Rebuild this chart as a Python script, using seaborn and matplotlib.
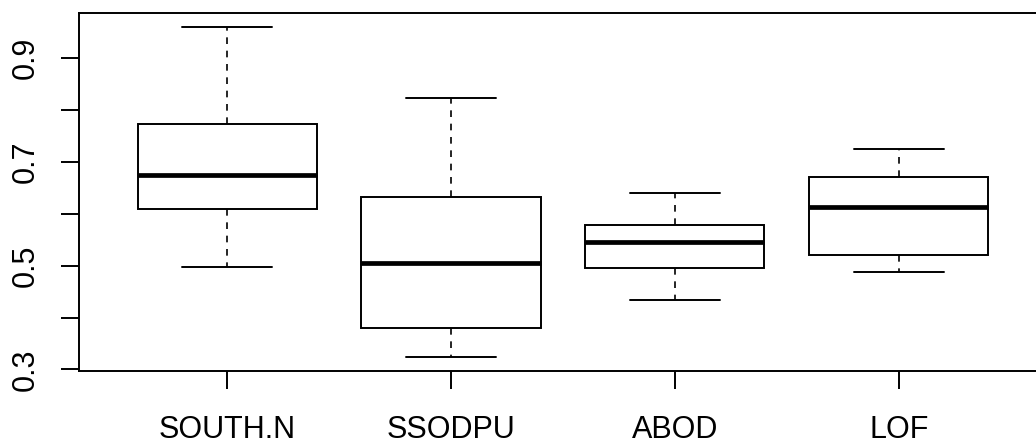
import pandas as pd
import numpy as np
import matplotlib
matplotlib.use("Agg")
import matplotlib.pyplot as plt
import seaborn as sns

# five-number summaries (min, Q1, median, Q3, max)
methods = ["SOUTH.N", "SSODPU", "ABOD", "LOF"]
south_n = [0.498, 0.609, 0.674, 0.773, 0.961]
ssodpu = [0.323, 0.380, 0.506, 0.632, 0.824]
abod = [0.434, 0.495, 0.545, 0.578, 0.640]
lof = [0.487, 0.521, 0.613, 0.670, 0.724]

y_ticks = [0.3, 0.4, 0.5, 0.6, 0.7, 0.8, 0.9]
y_tick_labels = ["0.3", "", "0.5", "", "0.7", "", "0.9"]

df = pd.DataFrame({
    "method": np.repeat(methods, 5),
    "score": south_n + ssodpu + abod + lof,
})

sns.set_style("white")
plt.rcParams["font.family"] = ["Liberation Sans", "DejaVu Sans"]

fig = plt.figure(figsize=(10.36, 4.44), dpi=100)
# R-style plot region; right edge runs off the picture like in the reference
ax = fig.add_axes([79.3 / 1036, (444 - 370.7) / 444, (1046.6 - 79.3) / 1036, (370.7 - 13.3) / 444])

sns.boxplot(data=df, x="method", y="score", order=methods, ax=ax,
            width=0.8, color="white", linecolor="black", linewidth=1.4,
            whis=1.5, showfliers=False,
            medianprops={"linewidth": 3.4, "solid_capstyle": "butt"},
            whiskerprops={"linestyle": (0, (4, 4)), "linewidth": 1.2},
            capprops={"linewidth": 1.4})

lo, hi = min(df["score"]), max(df["score"])
pad = 0.04 * (hi - lo)
ax.set_ylim(lo - pad, hi + pad)
ax.set_xlim(-0.66, 3.66)

ax.set_yticks(y_ticks)
ax.set_yticklabels(y_tick_labels, rotation=90, va="center")
ax.set_xlabel("")
ax.set_ylabel("")

for s in ax.spines.values():
    s.set_visible(True)
    s.set_color("black")
    s.set_linewidth(1.4)

ax.tick_params(axis="both", which="both", direction="out", length=13, width=1.4,
               color="black", labelsize=22, labelcolor="black",
               left=True, bottom=True)
ax.tick_params(axis="x", pad=19)
ax.tick_params(axis="y", pad=15)

fig.savefig("out.png", dpi=100)
